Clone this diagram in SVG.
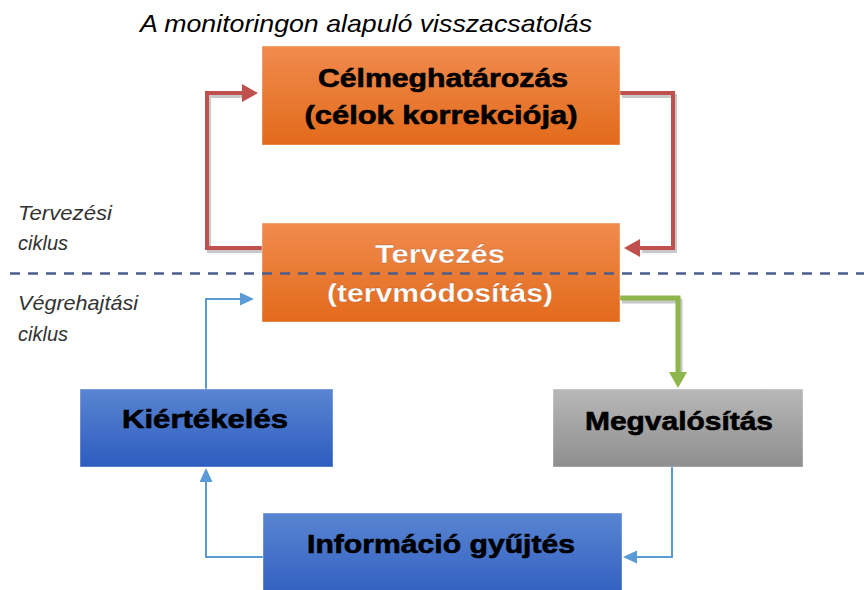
<svg xmlns="http://www.w3.org/2000/svg" width="864" height="590" viewBox="0 0 864 590">
<defs>
<linearGradient id="gO" x1="0" y1="0" x2="0" y2="1"><stop offset="0" stop-color="#f08b4e"/><stop offset="1" stop-color="#e36a1b"/></linearGradient>
<linearGradient id="gB" x1="0" y1="0" x2="0" y2="1"><stop offset="0" stop-color="#5a85d2"/><stop offset="1" stop-color="#2d5cbf"/></linearGradient>
<linearGradient id="gG" x1="0" y1="0" x2="0" y2="1"><stop offset="0" stop-color="#b8b8b8"/><stop offset="1" stop-color="#8e8e8e"/></linearGradient>
<marker id="aR" markerUnits="userSpaceOnUse" markerWidth="18" markerHeight="20" refX="0" refY="9" orient="auto"><path d="M0,0 L16,9 L0,18 z" fill="#c0504d"/></marker>
<marker id="aG" markerUnits="userSpaceOnUse" markerWidth="18" markerHeight="20" refX="0" refY="9" orient="auto"><path d="M0,0 L16,9 L0,18 z" fill="#8db64c"/></marker>
<marker id="aB" markerUnits="userSpaceOnUse" markerWidth="16" markerHeight="14" refX="0" refY="6.5" orient="auto"><path d="M0,0 L14,6.5 L0,13 z" fill="#5b9bd5"/></marker>
</defs>
<style>
.box{stroke:#ffffff;stroke-opacity:0.4;stroke-width:1}
.bt{font-family:"Liberation Sans",Arial,sans-serif;font-weight:bold;font-size:25px;text-anchor:middle}
.dk{fill:#000000;stroke:#000000;stroke-width:0.6}
.wt{fill:#ffffff;stroke:#7a3a10;stroke-width:0.3;stroke-opacity:0.6}
.lbl{font-family:"Liberation Sans",Arial,sans-serif;font-style:italic;font-size:21px;fill:#333333}
.sh{fill:none;stroke:#9a9a9a;stroke-opacity:0.55}
.red{fill:none;stroke:#c0504d;stroke-width:4}
.grn{fill:none;stroke:#8db64c;stroke-width:5}
.blu{fill:none;stroke:#5b9bd5;stroke-width:2}
</style>
<rect width="864" height="590" fill="#ffffff"/>
<text x="140" y="32" font-family="Liberation Sans,Arial,sans-serif" font-style="italic" font-size="24" fill="#000000" textLength="452" lengthAdjust="spacingAndGlyphs">A monitoringon alapuló visszacsatolás</text>
<text class="lbl" x="18" y="220" textLength="94" lengthAdjust="spacingAndGlyphs">Tervezési</text>
<text class="lbl" x="18" y="250" textLength="50" lengthAdjust="spacingAndGlyphs">ciklus</text>
<text class="lbl" x="18" y="310" textLength="120" lengthAdjust="spacingAndGlyphs">Végrehajtási</text>
<text class="lbl" x="18" y="341" textLength="50" lengthAdjust="spacingAndGlyphs">ciklus</text>
<g id="connectors">
<g transform="translate(2,3)">
<path class="sh" stroke-width="4" d="M262,248 H207 V93 H242"/>
<path class="sh" stroke-width="4" d="M620,93 H673 V248 H640"/>
<path class="sh" stroke-width="5" d="M620,298 H678 V372"/>
</g>
<path class="red" d="M262,248 H207 V93 H242" marker-end="url(#aR)"/>
<path class="red" d="M620,93 H673 V248 H640" marker-end="url(#aR)"/>
<path class="grn" d="M620,298 H678 V372" marker-end="url(#aG)"/>
<path class="blu" d="M672,467 V557 H637" marker-end="url(#aB)"/>
<path class="blu" d="M263,557 H206 V482" marker-end="url(#aB)"/>
<path class="blu" d="M206,389 V299 H240" marker-end="url(#aB)"/>
</g>
<g id="celmeghatarozas">
<rect class="box" x="262" y="46" width="358" height="99" fill="url(#gO)"/>
<text class="bt dk" x="443" y="87" textLength="250" lengthAdjust="spacingAndGlyphs">Célmeghatározás</text>
<text class="bt dk" x="441" y="124" textLength="273" lengthAdjust="spacingAndGlyphs">(célok korrekciója)</text>
</g>
<g id="tervezes">
<rect class="box" x="262" y="223" width="358" height="99" fill="url(#gO)"/>
<text class="bt wt" x="440" y="263" textLength="130" lengthAdjust="spacingAndGlyphs">Tervezés</text>
<text class="bt wt" x="440" y="302" textLength="226" lengthAdjust="spacingAndGlyphs">(tervmódosítás)</text>
</g>
<line x1="10" y1="273.5" x2="864" y2="273.5" stroke="#4a5d8c" stroke-width="2.5" stroke-dasharray="10,8"/>
<g id="kiertekeles">
<rect class="box" x="80" y="389" width="253" height="78" fill="url(#gB)"/>
<text class="bt dk" x="205" y="428" textLength="166" lengthAdjust="spacingAndGlyphs">Kiértékelés</text>
</g>
<g id="megvalositas">
<rect class="box" x="553" y="389" width="250" height="78" fill="url(#gG)"/>
<text class="bt dk" x="679" y="430" textLength="188" lengthAdjust="spacingAndGlyphs">Megvalósítás</text>
</g>
<g id="informacio">
<rect class="box" x="263" y="513" width="359" height="90" fill="url(#gB)"/>
<text class="bt dk" x="441" y="553" textLength="268" lengthAdjust="spacingAndGlyphs">Információ gyűjtés</text>
</g>
</svg>
